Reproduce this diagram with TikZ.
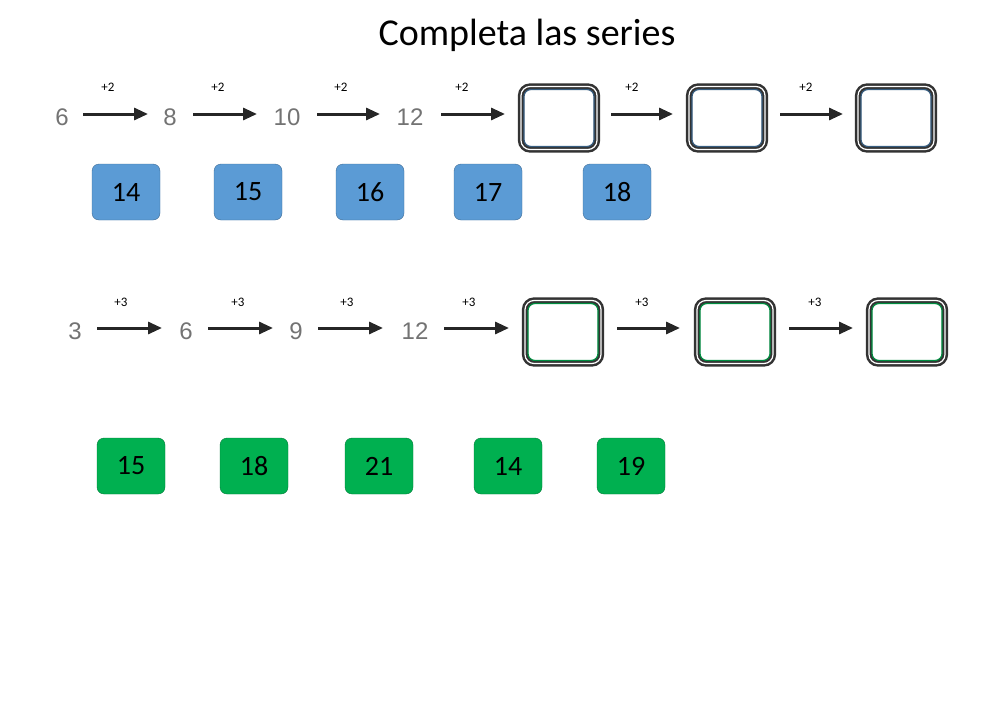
\documentclass[tikz,border=0pt]{standalone}
\usepackage{fontspec}
\setmainfont{Carlito}
\newfontfamily\helv{Liberation Sans}
\usetikzlibrary{arrows.meta}
\definecolor{tileblue}{HTML}{5B9BD5}
\definecolor{tilegreen}{HTML}{00B050}
\tikzset{
  num/.style={font=\helv\fontsize{24}{24}\selectfont, text=black!55},
  op/.style={font=\fontsize{13}{13}\selectfont},
  arr/.style={line width=3pt, -{Triangle[length=14pt,width=12pt]}, black!85},
  tile/.style={rounded corners=7pt, minimum width=68pt, minimum height=56pt, font=\fontsize{28}{28}\selectfont},
  btile/.style={tile, fill=tileblue, draw=tileblue!70!black},
  gtile/.style={tile, fill=tilegreen, draw=tilegreen!70!black},
  ansb/.style={rounded corners=9pt, minimum width=76pt, minimum height=63pt, draw=black!80, line width=2.5pt, double=white, double distance=1.2pt},
  ansbin/.style={rounded corners=7pt, minimum width=70pt, minimum height=57pt, draw=#1, line width=1.2pt},
}
\begin{document}
\begin{tikzpicture}[x=1pt,y=-1pt]
\useasboundingbox (0,0) rectangle (1000,707);
\node[font=\fontsize{38}{38}\selectfont] (title) at (527,35) {Completa las series};
% row 1
\node[num] (a1) at (62,117) {6};
\node[num] (a2) at (170,117) {8};
\node[num] (a3) at (287,117) {10};
\node[num] (a4) at (410,117) {12};
\node[ansb] (a5) at (559,118) {};
\node[ansb] (a6) at (727,118) {};
\node[ansb] (a7) at (896,118) {};
\foreach \n in {5,6,7}{\node[ansbin=tileblue!60!black] at (a\n) {};}
\coordinate (s1) at (83,114); \coordinate (e1) at (148,114);
\coordinate (s2) at (193,114); \coordinate (e2) at (257,114);
\coordinate (s3) at (317,114); \coordinate (e3) at (380,114);
\coordinate (s4) at (441,114); \coordinate (e4) at (505,114);
\coordinate (s5) at (611,114); \coordinate (e5) at (673,114);
\coordinate (s6) at (780,114); \coordinate (e6) at (843,114);
\foreach \i/\x in {1/108,2/218,3/341,4/462,5/632,6/806}{
  \draw[arr] (s\i) -- (e\i);
  \node[op] (p\i) at (\x,87) {+2};
}
\node[btile] (b1) at (126,192) {14};
\node[btile] (b2) at (248,192) {15};
\node[btile] (b3) at (370,192) {16};
\node[btile] (b4) at (488,192) {17};
\node[btile] (b5) at (617,192) {18};
% row 2
\node[num] (c1) at (75,331) {3};
\node[num] (c2) at (186,331) {6};
\node[num] (c3) at (296,331) {9};
\node[num] (c4) at (415,331) {12};
\node[ansb] (c5) at (563,332) {};
\node[ansb] (c6) at (735,332) {};
\node[ansb] (c7) at (907,332) {};
\foreach \n in {5,6,7}{\node[ansbin=tilegreen!80!black] at (c\n) {};}
\coordinate (t1) at (97,328); \coordinate (f1) at (162,328);
\coordinate (t2) at (208,328); \coordinate (f2) at (273,328);
\coordinate (t3) at (318,328); \coordinate (f3) at (383,328);
\coordinate (t4) at (444,328); \coordinate (f4) at (509,328);
\coordinate (t5) at (617,328); \coordinate (f5) at (680,328);
\coordinate (t6) at (789,328); \coordinate (f6) at (853,328);
\foreach \i/\x in {1/121,2/238,3/347,4/469,5/642,6/815}{
  \draw[arr] (t\i) -- (f\i);
  \node[op] (q\i) at (\x,302) {+3};
}
\node[gtile] (g1) at (131,466) {15};
\node[gtile] (g2) at (254,466) {18};
\node[gtile] (g3) at (379,466) {21};
\node[gtile] (g4) at (508,466) {14};
\node[gtile] (g5) at (631,466) {19};
\end{tikzpicture}
\end{document}
